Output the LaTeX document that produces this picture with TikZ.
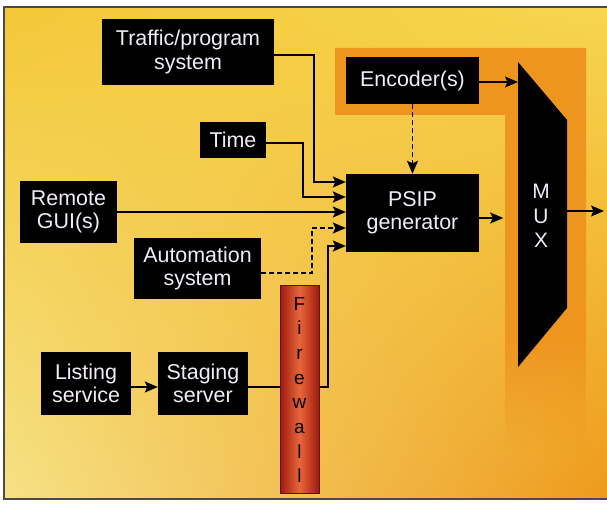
\documentclass[tikz,border=0pt]{standalone}
\usepackage{fontspec}
\setmainfont{Liberation Sans}
\usetikzlibrary{arrows.meta,shadings,fadings}
\definecolor{bgUL}{HTML}{F3C838}
\definecolor{bgUR}{HTML}{F7D650}
\definecolor{bgLL}{HTML}{F6E186}
\definecolor{bgLR}{HTML}{EE9A1C}
\definecolor{band}{HTML}{EE9520}
\definecolor{fwdark}{HTML}{9E1A0E}
\definecolor{fwlight}{HTML}{E8663A}
\definecolor{fwline}{HTML}{5E100A}
\definecolor{boxtext}{HTML}{F2ECF8}
\definecolor{frameline}{HTML}{4A4A4A}
\tikzfading[name=fadedown, top color=transparent!0, bottom color=transparent!100]
\tikzset{
  blk/.style={fill=black, text=boxtext, align=center, inner sep=0pt,
    font=\fontsize{21.5}{23.5}\selectfont},
  arr/.style={draw=black, line width=1.4bp, -{Stealth[length=13bp,width=11bp,inset=2.5bp]}},
  dsh/.style={arr, dash pattern=on 5bp off 3bp},
}
\begin{document}
\begin{tikzpicture}[x=1bp,y=-1bp]
\useasboundingbox (0,0) rectangle (607,505);
% background
\fill[white] (0,0) rectangle (607,505);
\shade[upper left=bgUL, upper right=bgUR, lower left=bgLL, lower right=bgLR] (4,7) rectangle (607,499);
\draw[frameline, line width=1.3bp] (608,7) -- (4,7) -- (4,499) -- (608,499);
% orange band
\fill[band] (335,48) -- (586,48) -- (586,340) -- (505,340) -- (505,115) -- (335,115) -- cycle;
\fill[band, path fading=fadedown] (505,339) rectangle (586,450);
% boxes
\node[blk, minimum width=172bp, minimum height=66bp] (traffic) at (188,52) {Traffic/program\\system};
\node[blk, minimum width=133bp, minimum height=47bp] (encoder) at (412.5,80.5) {Encoder(s)};
\node[blk, minimum width=66bp, minimum height=36bp] (time) at (233,140) {Time};
\node[blk, minimum width=97bp, minimum height=62bp] (remote) at (68.5,212) {Remote\\GUI(s)};
\node[blk, minimum width=133bp, minimum height=78bp] (psip) at (412.5,213) {PSIP\\generator};
\node[blk, minimum width=127bp, minimum height=61bp] (auto) at (197.5,268.5) {Automation\\system};
\node[blk, minimum width=90bp, minimum height=63bp] (listing) at (86,383.5) {Listing\\service};
\node[blk, minimum width=90bp, minimum height=63bp] (staging) at (203,383.5) {Staging\\server};
% MUX
\coordinate (muxTL) at (518,62);
\coordinate (muxTR) at (567,120);
\coordinate (muxBR) at (567,308);
\coordinate (muxBL) at (518,367);
\fill[black] (muxTL) -- (muxTR) -- (muxBR) -- (muxBL) -- cycle;
\node[text=boxtext, align=center, inner sep=0pt, font=\fontsize{21}{24.5}\selectfont] (mux) at (541,216) {M\\U\\X};
\coordinate (muxout) at (567,211);
\coordinate (outend) at (604,211);
% connectors
\draw[arr] ([yshift=-3bp]traffic.east) -| ([xshift=-32bp,yshift=31bp]psip.west) -- ([yshift=31bp]psip.west);
\draw[arr] ([yshift=-3bp]time.east) -| ([xshift=-43bp,yshift=16bp]psip.west) -- ([yshift=16bp]psip.west);
\draw[arr] (remote.east) -- (remote.east -| psip.west);
\draw[dsh] ([yshift=-4.5bp]auto.east) -| ([xshift=-34bp,yshift=-15bp]psip.west) -- ([yshift=-15bp]psip.west);
\draw[arr] ([yshift=-3.5bp]staging.east) -| ([xshift=-18bp,yshift=-33bp]psip.west) -- ([yshift=-33bp]psip.west);
\draw[arr] ([yshift=-3.5bp]listing.east) -- ([yshift=-3.5bp]staging.west);
\draw[arr] ([yshift=-1.5bp]encoder.east) -- ([yshift=-1.5bp]encoder.east -| muxTL);
\draw[dsh] (encoder.south) -- (psip.north);
\draw[arr] ([yshift=-5bp]psip.east) -- ([xshift=24bp,yshift=-5bp]psip.east);
\draw[arr] (muxout) -- (outend);
% firewall
\shade[left color=fwdark, right color=fwdark, middle color=fwlight] (280,285) rectangle (319,493);
\draw[fwline, line width=0.8bp] (280,285) rectangle (319,493);
\node[text=black, align=center, inner sep=0pt, font=\fontsize{19}{24.8}\selectfont] (firewall) at (299.5,390) {F\\i\\r\\e\\w\\a\\l\\l};
\end{tikzpicture}
\end{document}
